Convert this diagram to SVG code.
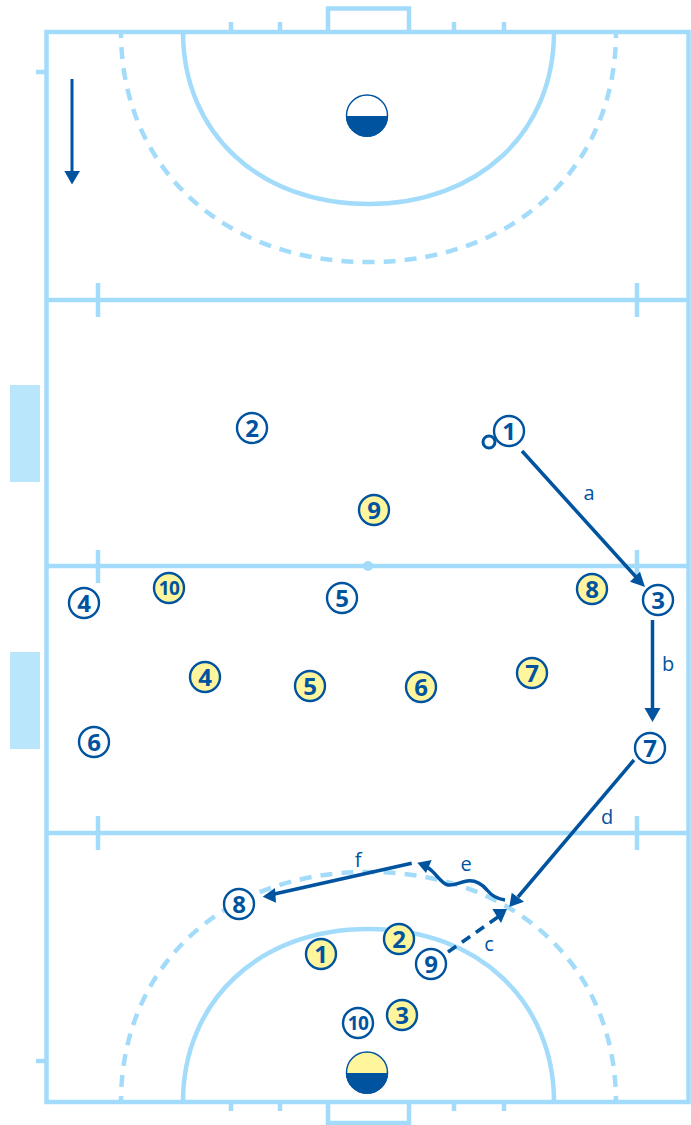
<svg xmlns="http://www.w3.org/2000/svg" width="691" height="1125" viewBox="0 0 691 1125">
<style>
.f{fill:none;stroke:#a3dcfa;stroke-width:4.500}
.d{stroke-dasharray:12 9;stroke-dashoffset:6}
.c{fill:none;stroke:#00539f;stroke-width:3.500}
.h{fill:#00539f;stroke:none}
circle.w{fill:#fff;stroke:#00539f;stroke-width:2.400}
circle.y{fill:#fff59d;stroke:#00539f;stroke-width:2.400}
text{font-family:"Open Sans","Noto Sans",sans-serif;fill:#00539f;text-anchor:middle}
.n{font-size:24px;font-weight:700}
.s{font-size:19px;font-weight:700;letter-spacing:-0.500px}
.l{font-size:20px}
</style>
<rect width="691" height="1125" fill="#fff"/>
<g id="field">
<rect x="46.500" y="32" width="642" height="1070" class="f"/>
<path class="f" d="M46 300H689M46 566H689M46 833H689"/>
<path class="f" d="M328 32V8.500H409V32M328 1102V1123H409V1102"/>
<path class="f" d="M231 22V32M280 22V32M454 22V32M504 22V32M231 1102V1111M280 1102V1111M454 1102V1111M504 1102V1111M36 72H46M36 1061H46"/>
<path class="f" d="M98 283V317M637 283V317M98 550V583M637 550V583M98 816V850M637 816V850"/>
<path class="f" d="M183 32C183 132 258 204 368.500 204C479 204 554 132 554 32M183 1102C183 1002 258 929 368.500 929C479 929 554 1002 554 1102"/>
<path class="f d" pathLength="756" d="M121 32C121 166 221 262 368.500 262C516 262 616 166 616 32"/>
<path class="f d" pathLength="756" d="M121 1102C121 968 221 872 368.500 872C516 872 616 968 616 1102"/>
<circle cx="368" cy="566" r="5" fill="#a3dcfa"/>
<rect x="10" y="385" width="30" height="97" fill="#b9e6fb"/>
<rect x="10" y="652" width="30" height="97" fill="#b9e6fb"/>
</g>
<g id="goalkeeper-top">
<circle cx="367" cy="115.500" r="20.500" fill="#fff" stroke="#00539f" stroke-width="1.500"/>
<path class="h" d="M346 116H388A21 21 0 0 1 346 116Z"/>
</g>
<g id="goalkeeper-bottom">
<circle cx="367" cy="1072.500" r="20.500" fill="#fff59d" stroke="#00539f" stroke-width="1.500"/>
<path class="h" d="M346 1073H388A21 21 0 0 1 346 1073Z"/>
</g>
<g id="connectors">
<path class="c" d="M72 79V172" style="stroke-width:3"/><path class="h" d="M64.300 171H80L72 184.500Z"/>
<path class="c" d="M522 451L636 577"/><path class="h" d="M645 587L630 581.700L640 571.700Z"/>
<path class="c" d="M652.500 620V710"/><path class="h" d="M644.500 708H660.500L652.500 722Z"/>
<path class="c" d="M634 760L518 897"/><path class="h" d="M509.300 907L511.700 892.700L524 901.700Z"/>
<path class="c" stroke-dasharray="10 7" d="M448 952L498 917"/><path class="h" d="M507 909L492.300 909L501 923Z"/>
<path class="c" d="M505 900C497 899 491 895 487 890C481 883 474 880 467 881C460 882 454 886 448 885C441 883 437 875 432 871C430 869 428 868 426 866"/><path class="h" d="M417.300 862.700L431.700 860L426 873Z"/>
<path class="c" d="M411.700 863.300L272 894.500"/><path class="h" d="M262.700 896.700L275 888L276 902.700Z"/>
</g>
<g id="ball"><circle cx="489" cy="442" r="6" fill="#fff" stroke="#00539f" stroke-width="3"/></g>
<g id="w1"><circle class="w" cx="509" cy="431" r="15"/><text class="n" x="509" y="439.500">1</text></g>
<g id="w2"><circle class="w" cx="252" cy="428" r="15"/><text class="n" x="252" y="436.500">2</text></g>
<g id="w3"><circle class="w" cx="658" cy="600" r="15"/><text class="n" x="658" y="608.500">3</text></g>
<g id="w4"><circle class="w" cx="84" cy="603" r="15"/><text class="n" x="84" y="611.500">4</text></g>
<g id="w5"><circle class="w" cx="342" cy="598" r="15"/><text class="n" x="342" y="606.500">5</text></g>
<g id="w6"><circle class="w" cx="94" cy="742" r="15"/><text class="n" x="94" y="750.500">6</text></g>
<g id="w7"><circle class="w" cx="650" cy="748" r="15"/><text class="n" x="650" y="756.500">7</text></g>
<g id="w8"><circle class="w" cx="239" cy="904" r="15"/><text class="n" x="239" y="912.500">8</text></g>
<g id="w9"><circle class="w" cx="431" cy="964" r="15"/><text class="n" x="431" y="972.500">9</text></g>
<g id="w10"><circle class="w" cx="358" cy="1023" r="15"/><text class="s" x="358" y="1030">10</text></g>
<g id="y1"><circle class="y" cx="321" cy="954" r="15"/><text class="n" x="321" y="962.500">1</text></g>
<g id="y2"><circle class="y" cx="399" cy="939" r="15"/><text class="n" x="399" y="947.500">2</text></g>
<g id="y3"><circle class="y" cx="402" cy="1015" r="15"/><text class="n" x="402" y="1023.500">3</text></g>
<g id="y4"><circle class="y" cx="205" cy="677" r="15"/><text class="n" x="205" y="685.500">4</text></g>
<g id="y5"><circle class="y" cx="310" cy="686" r="15"/><text class="n" x="310" y="694.500">5</text></g>
<g id="y6"><circle class="y" cx="421" cy="687" r="15"/><text class="n" x="421" y="695.500">6</text></g>
<g id="y7"><circle class="y" cx="532" cy="673" r="15"/><text class="n" x="532" y="681.500">7</text></g>
<g id="y8"><circle class="y" cx="592" cy="589" r="15"/><text class="n" x="592" y="597.500">8</text></g>
<g id="y9"><circle class="y" cx="374" cy="510" r="15"/><text class="n" x="374" y="518.500">9</text></g>
<g id="y10"><circle class="y" cx="169" cy="588" r="15"/><text class="s" x="169" y="595">10</text></g>
<g id="labels">
<text class="l" x="589" y="500">a</text>
<text class="l" x="668" y="671">b</text>
<text class="l" x="489" y="951">c</text>
<text class="l" x="607" y="824">d</text>
<text class="l" x="466" y="871">e</text>
<text class="l" x="358" y="867">f</text>
</g>
</svg>
